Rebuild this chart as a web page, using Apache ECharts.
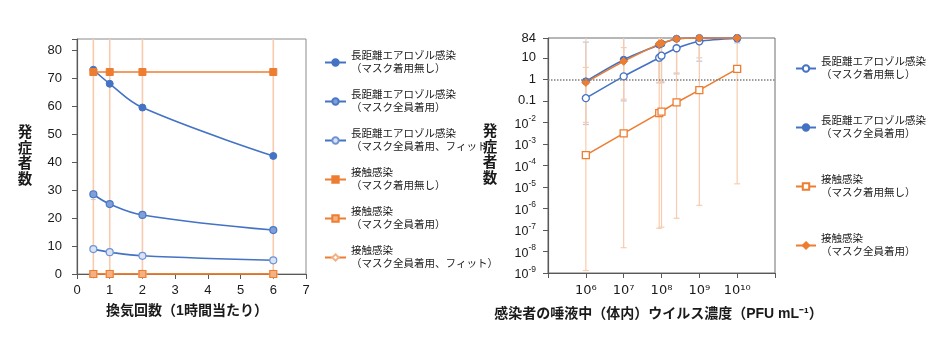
<!DOCTYPE html>
<html>
<head>
<meta charset="utf-8">
<script src="https://cdn.jsdelivr.net/npm/echarts@6/dist/echarts.min.js"></script>
<style>
html,body{margin:0;padding:0;background:#fff;}
#chart{width:940px;height:337px;}
</style>
</head>
<body>
<div id="chart"></div>
<script>
// ---------- Left chart data (ventilation) ----------
const leftX = [0.5, 1, 2, 6];
const leftXTicks = [0, 1, 2, 3, 4, 5, 6, 7];
const leftYTicks = [0, 10, 20, 30, 40, 50, 60, 70, 80];
const leftAeroNoMask = [73, 68, 59.5, 42.2];
const leftAeroMask = [28.5, 25, 21.1, 15.7];
const leftAeroMaskFit = [8.9, 7.8, 6.5, 4.9];
const leftContactNoMask = [72.2, 72.2, 72.2, 72.2];
const leftContactMask = [0, 0, 0, 0];
const leftContactMaskFit = [0, 0, 0, 0];
const leftContactErrLow = [0, 0, 0, 0];
const leftContactErrHigh = [100, 100, 100, 100];
const leftAeroMaskErrLow = [26.6, 24.2, 20.6, 15.3];
const leftAeroMaskErrHigh = [29.3, 25.8, 21.6, 16.1];

// ---------- Right chart data (viral load) ----------
const rightX = [1e6, 1e7, 8.7e7, 1e8, 2.5e8, 1e9, 1e10];
const rightXTickExp = [6, 7, 8, 9, 10];
const rightAeroNoMask = [0.134, 1.38, 10.2, 12.6, 28, 59, 82];
const rightAeroMask = [0.81, 8.2, 41, 46, 78, 84, 84];
const rightContactNoMask = [3.0e-4, 3.1e-3, 0.027, 0.032, 0.085, 0.316, 3.1];
const rightContactMask = [0.72, 6.9, 44.5, 48, 76, 84, 84];
const rightContactNoMaskErrLow = [1.3e-9, 1.5e-8, 1.2e-7, 1.35e-7, 3.5e-7, 1.4e-6, 1.4e-5];
const rightContactNoMaskErrHigh = [200, 200, 200, 200, 200, 200, 200];
const rightAeroNoMaskErrLow = [0.008, 0.1, 0.7, 0.7, 1.8, 7, 50];
const rightAeroNoMaskErrHigh = [54, 200, 200, 200, 200, 200, 200];
const rightContactMaskErrLow = [0.01, 0.12, 0.7, 0.8, 2, 10, 60];
const rightContactMaskErrHigh = [3.6, 30, 200, 200, 200, 200, 200];

// ---------- Text ----------
const yName = '発\n症\n者\n数';
const leftXName = '換気回数（1時間当たり）';
const rightXName = '感染者の唾液中（体内）ウイルス濃度（PFU mL⁻¹）';
const legendLabels = {
  L1: '長距離エアロゾル感染\n（マスク着用無し）',
  L2: '長距離エアロゾル感染\n（マスク全員着用）',
  L3: '長距離エアロゾル感染\n（マスク全員着用、フィット）',
  L4: '接触感染\n（マスク着用無し）',
  L5: '接触感染\n（マスク全員着用）',
  L6: '接触感染\n（マスク全員着用、フィット）',
  R1: '長距離エアロゾル感染\n（マスク着用無し）',
  R2: '長距離エアロゾル感染\n（マスク全員着用）',
  R3: '接触感染\n（マスク着用無し）',
  R4: '接触感染\n（マスク全員着用）'
};

const BLUE = '#4472C4';
const ORANGE = '#ED7D31';
const PEACH = '#F8CBAD';
const LBLUE = '#B4C7E7';
const LATIN = '"Liberation Sans", Arial, "Noto Sans CJK JP", sans-serif';
const CJK = '"Liberation Sans", "Noto Sans CJK JP", sans-serif';
const TXT = '#1a1a1a';

function pairs(xs, ys) { return xs.map((x, i) => [x, ys[i]]); }
function triples(xs, lo, hi) { return xs.map((x, i) => [x, lo[i], hi[i]]); }

function errRender(color, width, cap) {
  return function (params, api) {
    const x = api.value(0), lo = api.value(1), hi = api.value(2);
    const p1 = api.coord([x, lo]);
    const p2 = api.coord([x, hi]);
    const st = { stroke: color, lineWidth: width };
    return {
      type: 'group',
      children: [
        { type: 'line', shape: { x1: p1[0], y1: p1[1], x2: p2[0], y2: p2[1] }, style: st },
        { type: 'line', shape: { x1: p1[0] - cap, y1: p1[1], x2: p1[0] + cap, y2: p1[1] }, style: st },
        { type: 'line', shape: { x1: p2[0] - cap, y1: p2[1], x2: p2[0] + cap, y2: p2[1] }, style: st }
      ]
    };
  };
}

function errSeries(xi, yi, data, color, width, cap) {
  return {
    type: 'custom', xAxisIndex: xi, yAxisIndex: yi, clip: true, silent: true, z: 1,
    renderItem: errRender(color, width, cap),
    encode: { x: 0, y: [1, 2] },
    data: data
  };
}

function lineSeries(name, xi, yi, data, opts) {
  return Object.assign({
    name: name, type: 'line', xAxisIndex: xi, yAxisIndex: yi, data: data,
    symbolSize: 7, lineStyle: { width: 1.6 }, z: 3, animation: false
  }, opts);
}

const SUP = { '0': '⁰', '1': '¹', '2': '²', '3': '³', '4': '⁴', '5': '⁵', '6': '⁶', '7': '⁷', '8': '⁸', '9': '⁹', '-': '⁻' };
function sup(n) { return String(n).split('').map(c => SUP[c]).join(''); }

const chart = echarts.init(document.getElementById('chart'), null, { renderer: 'canvas' });

const option = {
  animation: false,
  backgroundColor: '#ffffff',
  grid: [
    { left: 77, top: 39, width: 229, height: 235, show: true, borderColor: '#8c8c8c', borderWidth: 1 },
    { left: 548, top: 38, width: 227, height: 235, show: true, borderColor: '#6e6e6e', borderWidth: 1 }
  ],
  legend: [
    {
      left: 324, top: 50, padding: 0, orient: 'vertical', itemGap: 14, itemWidth: 21, itemHeight: 8,
      data: ['L1', 'L2', 'L3', 'L4', 'L5', 'L6'],
      formatter: n => legendLabels[n],
      textStyle: { fontSize: 10.5, lineHeight: 12.5, color: TXT, fontFamily: CJK },
      selectedMode: false
    },
    {
      left: 795, top: 56, padding: 0, orient: 'vertical', itemGap: 34, itemWidth: 20, itemHeight: 8,
      data: ['R1', 'R2', 'R3', 'R4'],
      formatter: n => legendLabels[n],
      textStyle: { fontSize: 10.5, lineHeight: 12.5, color: TXT, fontFamily: CJK },
      selectedMode: false
    }
  ],
  xAxis: [
    {
      gridIndex: 0, type: 'value', min: leftXTicks[0], max: leftXTicks[leftXTicks.length - 1], interval: 1,
      splitLine: { show: false },
      axisLine: { lineStyle: { color: '#595959', width: 1.2 } },
      axisTick: { show: true, inside: false, length: 5, lineStyle: { color: '#595959' } },
      axisLabel: { color: TXT, fontSize: 13, fontFamily: LATIN, margin: 10 },
      name: leftXName, nameLocation: 'middle', nameGap: 30,
      nameTextStyle: { fontSize: 14, fontWeight: 'bold', color: TXT, fontFamily: CJK, padding: [0, 9, 0, 0] }
    },
    {
      gridIndex: 1, type: 'log', logBase: 10, min: 1e5, max: 1e11, interval: 1,
      splitLine: { show: false },
      axisLine: { lineStyle: { color: '#595959', width: 1.2 } },
      axisTick: { show: true, inside: false, length: 5, lineStyle: { color: '#595959' } },
      axisLabel: {
        margin: 11, color: TXT, fontSize: 13, fontFamily: '"DejaVu Sans", sans-serif',
        formatter: v => {
          const e = Math.round(Math.log10(v));
          return rightXTickExp.indexOf(e) >= 0 ? '10' + sup(e) : '';
        }
      },
      name: rightXName, nameLocation: 'middle', nameGap: 34,
      nameTextStyle: { fontSize: 14, fontWeight: 'bold', color: TXT, fontFamily: CJK, padding: [0, 6, 0, 0] }
    }
  ],
  yAxis: [
    {
      gridIndex: 0, type: 'value', min: 0, max: 84, interval: 10,
      splitLine: { show: false },
      axisLine: { show: true, lineStyle: { color: '#595959', width: 1.2 } },
      axisTick: { show: true, inside: false, length: 5, lineStyle: { color: '#595959' } },
      axisLabel: {
        color: TXT, fontSize: 13, fontFamily: LATIN, margin: 15,
        formatter: v => (leftYTicks.indexOf(v) >= 0 ? String(v) : '')
      },
      name: yName, nameLocation: 'middle', nameGap: 52, nameRotate: 0,
      nameTextStyle: { fontSize: 14.5, lineHeight: 15.5, fontWeight: 'bold', color: TXT, fontFamily: CJK, align: 'center', verticalAlign: 'middle' }
    },
    {
      gridIndex: 1, type: 'log', logBase: 10, min: 1e-9, max: 84, interval: 1,
      splitLine: { show: false },
      axisLine: { show: true, lineStyle: { color: '#595959', width: 1.2 } },
      axisTick: { show: true, inside: false, length: 5, lineStyle: { color: '#595959' } },
      axisLabel: {
        margin: 12, color: TXT, fontSize: 13, fontFamily: LATIN,
        rich: {
          b: { fontSize: 12.5, color: TXT, fontFamily: LATIN, lineHeight: 16, verticalAlign: 'bottom' },
          s: { fontSize: 8.5, color: TXT, fontFamily: LATIN, lineHeight: 16, verticalAlign: 'top' }
        },
        formatter: v => {
          const lg = Math.log10(v);
          const e = Math.round(lg);
          if (Math.abs(lg - e) > 0.01) return String(Math.round(v));
          if (e >= -1) return String(parseFloat(v.toPrecision(3)));
          return '{b|10}{s|' + e + '}';
        }
      },
      name: yName, nameLocation: 'middle', nameGap: 58, nameRotate: 0,
      nameTextStyle: { fontSize: 14.5, lineHeight: 15.5, fontWeight: 'bold', color: TXT, fontFamily: CJK, align: 'center', verticalAlign: 'middle' }
    }
  ],
  series: [
    // left error bars
    errSeries(0, 0, triples(leftX, leftContactErrLow, leftContactErrHigh), PEACH, 1.6, 0),
    errSeries(0, 0, triples(leftX, leftAeroMaskErrLow, leftAeroMaskErrHigh), '#C9C9C9', 1, 2.5),
    // left series
    lineSeries('L1', 0, 0, pairs(leftX, leftAeroNoMask), {
      smooth: 0.4, symbol: 'circle', itemStyle: { color: BLUE, borderColor: BLUE, borderWidth: 1 },
      lineStyle: { color: BLUE, width: 1.6 }
    }),
    lineSeries('L2', 0, 0, pairs(leftX, leftAeroMask), {
      smooth: 0.4, symbol: 'circle', itemStyle: { color: '#7F9FD8', borderColor: '#4A78C6', borderWidth: 1.2 },
      lineStyle: { color: BLUE, width: 1.6 }
    }),
    lineSeries('L3', 0, 0, pairs(leftX, leftAeroMaskFit), {
      smooth: 0.4, symbol: 'circle', itemStyle: { color: '#DAE3F3', borderColor: '#6E93D6', borderWidth: 1.2 },
      lineStyle: { color: BLUE, width: 1.6 }
    }),
    lineSeries('L4', 0, 0, pairs(leftX, leftContactNoMask), {
      symbol: 'rect', itemStyle: { color: ORANGE, borderColor: ORANGE, borderWidth: 1 },
      lineStyle: { color: ORANGE, width: 1.6 }
    }),
    lineSeries('L6', 0, 0, pairs(leftX, leftContactMaskFit), {
      symbol: 'diamond', symbolSize: 8, itemStyle: { color: '#ffffff', borderColor: '#F4B183', borderWidth: 1.2 },
      lineStyle: { color: ORANGE, width: 1.6 }
    }),
    lineSeries('L5', 0, 0, pairs(leftX, leftContactMask), {
      symbol: 'rect', itemStyle: { color: '#F4B183', borderColor: ORANGE, borderWidth: 1.2 },
      lineStyle: { color: ORANGE, width: 1.6 }
    }),
    // right error bars
    errSeries(1, 1, triples(rightX, rightAeroNoMaskErrLow, rightAeroNoMaskErrHigh), LBLUE, 1.2, 3),
    errSeries(1, 1, triples(rightX, rightContactMaskErrLow, rightContactMaskErrHigh), PEACH, 1.2, 3),
    errSeries(1, 1, triples(rightX, rightContactNoMaskErrLow, rightContactNoMaskErrHigh), PEACH, 1.2, 3),
    // right series
    lineSeries('R1', 1, 1, pairs(rightX, rightAeroNoMask), {
      smooth: 0.25, symbol: 'circle', itemStyle: { color: '#ffffff', borderColor: BLUE, borderWidth: 1.3 },
      lineStyle: { color: BLUE, width: 1.6 },
      markLine: {
        silent: true, symbol: 'none', label: { show: false },
        lineStyle: { type: 'dotted', color: '#7f7f7f', width: 1.5 },
        data: [{ yAxis: 1 }]
      }
    }),
    lineSeries('R2', 1, 1, pairs(rightX, rightAeroMask), {
      smooth: 0.25, symbol: 'circle', itemStyle: { color: BLUE, borderColor: BLUE, borderWidth: 1 },
      lineStyle: { color: BLUE, width: 1.6 }
    }),
    lineSeries('R3', 1, 1, pairs(rightX, rightContactNoMask), {
      symbol: 'rect', itemStyle: { color: '#ffffff', borderColor: ORANGE, borderWidth: 1.3 },
      lineStyle: { color: ORANGE, width: 1.6 }
    }),
    lineSeries('R4', 1, 1, pairs(rightX, rightContactMask), {
      smooth: 0.25, symbol: 'diamond', symbolSize: 8, itemStyle: { color: ORANGE, borderColor: ORANGE, borderWidth: 1 },
      lineStyle: { color: ORANGE, width: 1.6 }
    })
  ]
};
chart.setOption(option);
</script>
</body>
</html>
